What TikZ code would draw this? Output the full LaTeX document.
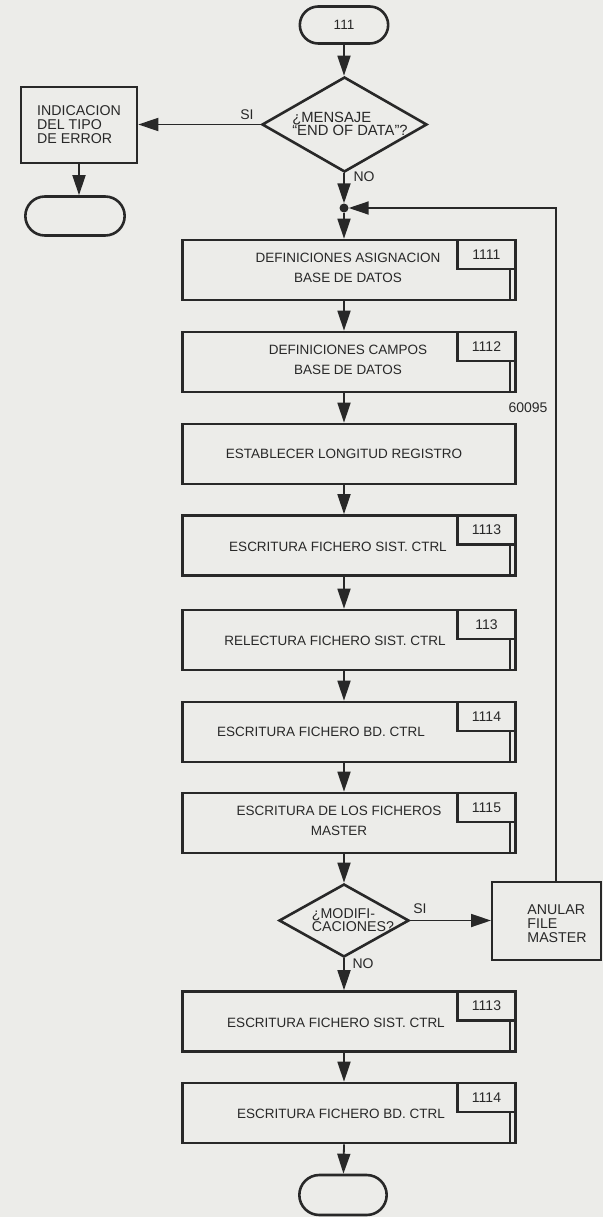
\documentclass[tikz,border=0pt]{standalone}
\usepackage{fontspec}
\setmainfont{Liberation Sans}
\usetikzlibrary{shapes.geometric, shapes.misc, arrows.meta, positioning}
\definecolor{paper}{RGB}{236,236,233}
\definecolor{ink}{RGB}{40,40,40}
\tikzset{
  fc base/.style={
    draw=ink, line width=2.6pt, text=ink,
    font=\fontsize{13.5}{20}\selectfont
  },
  fc proc/.style={
    fc base, rectangle, minimum width=333pt, minimum height=60pt,
    inner sep=0pt
  },
  fc ptext/.style={
    text=ink, align=center, inner sep=1pt,
    font=\fontsize{13.5}{20}\selectfont
  },
  fc tag/.style={
    rectangle, draw=ink, line width=2.6pt, text=ink,
    minimum width=58pt, minimum height=29pt, inner sep=0pt,
    font=\fontsize{14}{14}\selectfont
  },
  fc inner/.style={draw=ink, line width=2.6pt},
  fc term/.style={
    fc base, rounded rectangle, minimum width=95pt, minimum height=37pt
  },
  fc decision/.style={
    fc base, diamond, inner sep=0pt
  },
  fc dtext/.style={
    text=ink, align=left, inner sep=1pt,
    font=\fontsize{14.8}{13.5}\selectfont
  },
  fc box/.style={
    fc base, rectangle, align=left, inner sep=2pt,
    font=\fontsize{14.2}{14}\selectfont
  },
  fc arrow/.style={
    -{Triangle[length=20pt, width=13pt]}, draw=ink, line width=1.8pt
  },
  fc label/.style={
    font=\fontsize{14}{14}\selectfont, text=ink, inner sep=1pt
  }
}
\begin{document}
\begin{tikzpicture}[x=1pt, y=-1pt]
  \fill[paper] (0,0) rectangle (603,1217);
  \useasboundingbox (0,0) rectangle (603,1217);

  % Top: start, test for end of data, error branch
  \node (start) [fc term] at (344,25) {111};
  \node (d1) [fc decision, minimum width=165pt, minimum height=95pt] at (344.5,124.5) {};
  \node (d1t) [fc dtext] at (350,124) {¿MENSAJE\\“END OF DATA”?};
  \node (err) [fc box, minimum width=116pt, minimum height=76pt] at (79,125)
    {INDICACION\\DEL TIPO\\DE ERROR};
  \node (errend) [fc term, minimum width=106pt, minimum height=39pt] at (75,216) {};
  \node (dot) [circle, fill=ink, inner sep=0pt, minimum size=9pt] at (344,208) {};

  % Main column
  \node (p1) [fc proc] at (349,270) {};
  \node (p2) [fc proc] at (349,362) {};
  \node (p3) [fc proc] at (349,454) {};
  \node (p4) [fc proc] at (349,545.5) {};
  \node (p5) [fc proc] at (349,640) {};
  \node (p6) [fc proc] at (349,732) {};
  \node (p7) [fc proc] at (349,823) {};
  \node (d2) [fc decision, minimum width=130pt, minimum height=73pt] at (344,920.5) {};
  \node (p8) [fc proc] at (349,1021.5) {};
  \node (p9) [fc proc] at (349,1113) {};
  \node (stop) [fc term, minimum width=94pt, minimum height=40pt] at (343,1195) {};

  % Texts of the main column
  \node (p1t) [fc ptext] at (348,268) {DEFINICIONES ASIGNACION\\BASE DE DATOS};
  \node (p2t) [fc ptext] at (348,360) {DEFINICIONES CAMPOS\\BASE DE DATOS};
  \node (p3t) [fc ptext] at (344,454) {ESTABLECER LONGITUD REGISTRO};
  \node (p4t) [fc ptext] at (338,547) {ESCRITURA FICHERO SIST. CTRL};
  \node (p5t) [fc ptext] at (335,641) {RELECTURA FICHERO SIST. CTRL};
  \node (p6t) [fc ptext] at (321,732) {ESCRITURA FICHERO BD. CTRL};
  \node (p7t) [fc ptext] at (339,821) {ESCRITURA DE LOS FICHEROS\\MASTER};
  \node (d2t) [fc dtext, font=\fontsize{14.2}{13.5}\selectfont] at (353,920)
    {¿MODIFI-\\CACIONES?};
  \node (p8t) [fc ptext] at (336,1023) {ESCRITURA FICHERO SIST. CTRL};
  \node (p9t) [fc ptext] at (341,1114) {ESCRITURA FICHERO BD. CTRL};

  % Side branch back to the top
  \node (anular) [fc base, rectangle, line width=2pt, minimum width=109pt,
    minimum height=78pt] at (546.5,921) {};
  \node (anulart) [fc dtext, font=\fontsize{14.2}{14}\selectfont] at (557,924)
    {ANULAR\\FILE\\MASTER};
  \coordinate (ret) at (556,208);
  \node (ref) [fc label] at (528,407.5) {60095};

  % Tags of the predefined processes
  \node (t1) [fc tag, anchor=north east] at (p1.north east) {1111};
  \node (t2) [fc tag, anchor=north east] at (p2.north east) {1112};
  \node (t4) [fc tag, anchor=north east] at (p4.north east) {1113};
  \node (t5) [fc tag, anchor=north east] at (p5.north east) {113};
  \node (t6) [fc tag, anchor=north east] at (p6.north east) {1114};
  \node (t7) [fc tag, anchor=north east] at (p7.north east) {1115};
  \node (t8) [fc tag, anchor=north east] at (p8.north east) {1113};
  \node (t9) [fc tag, anchor=north east] at (p9.north east) {1114};
  \draw [fc inner] ([xshift=-7pt]t1.south east) -- ([xshift=-7pt]p1.south east);
  \draw [fc inner] ([xshift=-7pt]t2.south east) -- ([xshift=-7pt]p2.south east);
  \draw [fc inner] ([xshift=-7pt]t4.south east) -- ([xshift=-7pt]p4.south east);
  \draw [fc inner] ([xshift=-7pt]t5.south east) -- ([xshift=-7pt]p5.south east);
  \draw [fc inner] ([xshift=-7pt]t6.south east) -- ([xshift=-7pt]p6.south east);
  \draw [fc inner] ([xshift=-7pt]t7.south east) -- ([xshift=-7pt]p7.south east);
  \draw [fc inner] ([xshift=-7pt]t8.south east) -- ([xshift=-7pt]p8.south east);
  \draw [fc inner] ([xshift=-7pt]t9.south east) -- ([xshift=-7pt]p9.south east);

  % Connectors
  \draw [fc arrow] (start) -- (start |- d1.north);
  \draw [fc arrow] (d1.west) -- (d1.west -| err.east);
  \draw [fc arrow] (err.south) -- (err.south |- errend.north);
  \draw [fc arrow] (d1.south -| dot) -- (dot);
  \draw [fc arrow] (dot) -- (p1.north -| dot);
  \draw [fc arrow] (p1.south -| dot) -- (p2.north -| dot);
  \draw [fc arrow] (p2.south -| dot) -- (p3.north -| dot);
  \draw [fc arrow] (p3.south -| dot) -- (p4.north -| dot);
  \draw [fc arrow] (p4.south -| dot) -- (p5.north -| dot);
  \draw [fc arrow] (p5.south -| dot) -- (p6.north -| dot);
  \draw [fc arrow] (p6.south -| dot) -- (p7.north -| dot);
  \draw [fc arrow] (p7.south -| dot) -- (d2);
  \draw [fc arrow] (d2.east) -- (d2.east -| anular.west);
  \draw [fc arrow] (d2) -- (p8.north -| dot);
  \draw [fc arrow] (p8.south -| dot) -- (p9.north -| dot);
  \draw [fc arrow] (p9.south -| dot) -- (stop);
  \draw [fc arrow] (anular.north -| ret) -- (ret) -- (dot);

  % Branch labels
  \node (si1) [fc label] at (247,115) {SI};
  \node (no1) [fc label] at (364,177) {NO};
  \node (si2) [fc label] at (420,909) {SI};
  \node (no2) [fc label] at (363,964) {NO};
\end{tikzpicture}
\end{document}
